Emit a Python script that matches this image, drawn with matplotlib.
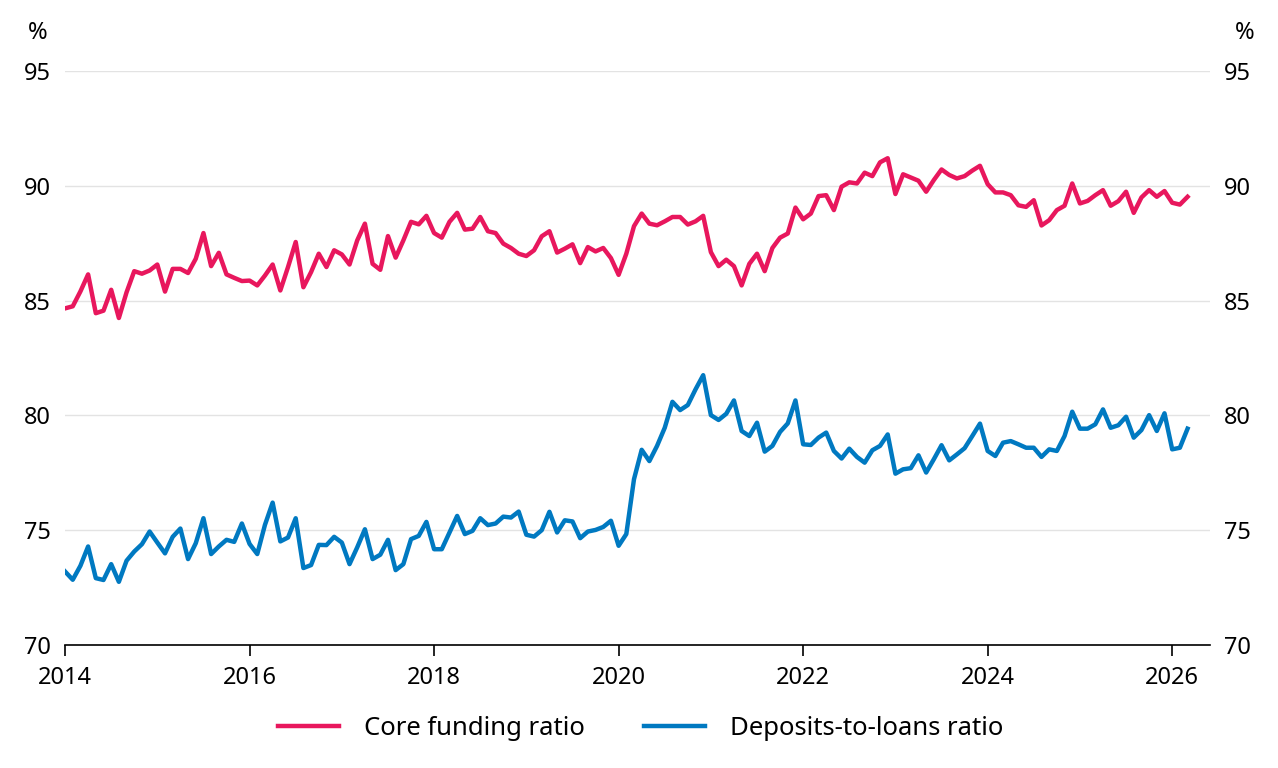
import matplotlib.pyplot as plt
import numpy as np

plt.rcParams["font.family"] = ["Noto Sans", "DejaVu Sans"]
plt.rcParams["font.size"] = 17

START_YEAR = 2014
YEAR_TICKS = [2014, 2016, 2018, 2020, 2022, 2024, 2026]
PCT_TICKS = [70, 75, 80, 85, 90, 95]

# monthly values, Jan 2014 onwards
core_funding = [
    84.66, 84.75, 85.40, 86.14, 84.45, 84.56, 85.47, 84.24, 85.36, 86.28, 86.17, 86.31,
    86.57, 85.39, 86.38, 86.38, 86.20, 86.82, 87.94, 86.50, 87.08, 86.14, 85.99, 85.85,
    85.87, 85.66, 86.09, 86.57, 85.44, 86.46, 87.55, 85.58, 86.24, 87.04, 86.46, 87.19,
    87.01, 86.57, 87.62, 88.35, 86.60, 86.34, 87.81, 86.87, 87.62, 88.43, 88.32, 88.69,
    87.94, 87.74, 88.43, 88.82, 88.09, 88.13, 88.64, 88.02, 87.94, 87.48, 87.29, 87.04,
    86.94, 87.19, 87.80, 88.02, 87.09, 87.26, 87.45, 86.63, 87.33, 87.14, 87.29, 86.85,
    86.12, 87.04, 88.24, 88.79, 88.35, 88.28, 88.45, 88.64, 88.64, 88.31, 88.45, 88.69,
    87.11, 86.50, 86.78, 86.50, 85.66, 86.60, 87.04, 86.28, 87.29, 87.74, 87.92, 89.05,
    88.54, 88.79, 89.55, 89.59, 88.94, 89.96, 90.15, 90.10, 90.57, 90.42, 91.02, 91.20,
    89.64, 90.50, 90.36, 90.22, 89.74, 90.25, 90.71, 90.47, 90.32, 90.42, 90.66, 90.87,
    90.07, 89.71, 89.71, 89.59, 89.15, 89.08, 89.37, 88.27, 88.50, 88.94, 89.13, 90.10,
    89.23, 89.34, 89.59, 89.81, 89.13, 89.33, 89.74, 88.82, 89.49, 89.81, 89.52, 89.77,
    89.26, 89.18, 89.52,
]
deposits_to_loans = [
    73.20, 72.84, 73.45, 74.29, 72.91, 72.83, 73.52, 72.75, 73.67, 74.07, 74.39, 74.94,
    74.46, 73.99, 74.71, 75.07, 73.74, 74.43, 75.52, 73.96, 74.29, 74.58, 74.49, 75.29,
    74.40, 73.96, 75.23, 76.20, 74.51, 74.68, 75.52, 73.35, 73.48, 74.36, 74.35, 74.71,
    74.46, 73.52, 74.25, 75.04, 73.74, 73.93, 74.58, 73.26, 73.52, 74.61, 74.75, 75.36,
    74.17, 74.17, 74.90, 75.62, 74.83, 74.97, 75.52, 75.22, 75.29, 75.59, 75.55, 75.81,
    74.80, 74.72, 75.00, 75.80, 74.90, 75.43, 75.38, 74.65, 74.94, 75.01, 75.14, 75.41,
    74.32, 74.83, 77.22, 78.50, 78.01, 78.67, 79.46, 80.59, 80.23, 80.45, 81.13, 81.75,
    80.01, 79.80, 80.07, 80.65, 79.32, 79.10, 79.68, 78.42, 78.67, 79.28, 79.65, 80.65,
    78.74, 78.71, 79.03, 79.25, 78.45, 78.12, 78.55, 78.19, 77.94, 78.48, 78.67, 79.17,
    77.46, 77.65, 77.70, 78.26, 77.51, 78.09, 78.70, 78.04, 78.30, 78.57, 79.10, 79.64,
    78.45, 78.23, 78.81, 78.88, 78.74, 78.59, 78.59, 78.19, 78.52, 78.45, 79.10, 80.16,
    79.42, 79.42, 79.61, 80.26, 79.46, 79.57, 79.94, 79.03, 79.36, 80.01, 79.32, 80.09,
    78.52, 78.59, 79.42,
]

PINK = "#e8175d"
BLUE = "#0079c1"


def main() -> None:
    months = START_YEAR + np.arange(len(core_funding)) / 12

    fig = plt.figure(figsize=(12.78, 7.68), dpi=100)
    ax = fig.add_axes([0.0509, 0.1602, 0.8959, 0.7474])

    ax.plot(months, core_funding, color=PINK, lw=3.2, label="Core funding ratio")
    ax.plot(months, deposits_to_loans, color=BLUE, lw=3.2, label="Deposits-to-loans ratio")

    ax.set_xlim(2014, 2026.41)
    ax.set_ylim(70, 95)
    ax.set_xticks(YEAR_TICKS)
    ax.set_xticklabels([str(y) for y in YEAR_TICKS])
    ax.set_yticks(PCT_TICKS)
    ax.grid(axis="y", color="#e3e3e3", lw=1)
    ax.set_axisbelow(True)

    for side in ("left", "right", "top"):
        ax.spines[side].set_visible(False)
    ax.spines["bottom"].set_color("black")
    ax.spines["bottom"].set_linewidth(1.2)

    ax.tick_params(axis="x", length=8, width=1.2, pad=7, color="black")
    ax.tick_params(axis="y", length=0, labelright=True, pad=10)

    ax.text(-0.024, 1.045, "%", transform=ax.transAxes, ha="center", va="bottom")
    ax.text(1.03, 1.045, "%", transform=ax.transAxes, ha="center", va="bottom")

    fig.legend(
        loc="center",
        bbox_to_anchor=(0.501, 0.051),
        ncol=2,
        frameon=False,
        fontsize=18.5,
        handlelength=2.4,
        handletextpad=0.95,
        columnspacing=2.3,
    )

    fig.savefig("out.png", dpi=100)


main() if __name__ == "__main__" else None
